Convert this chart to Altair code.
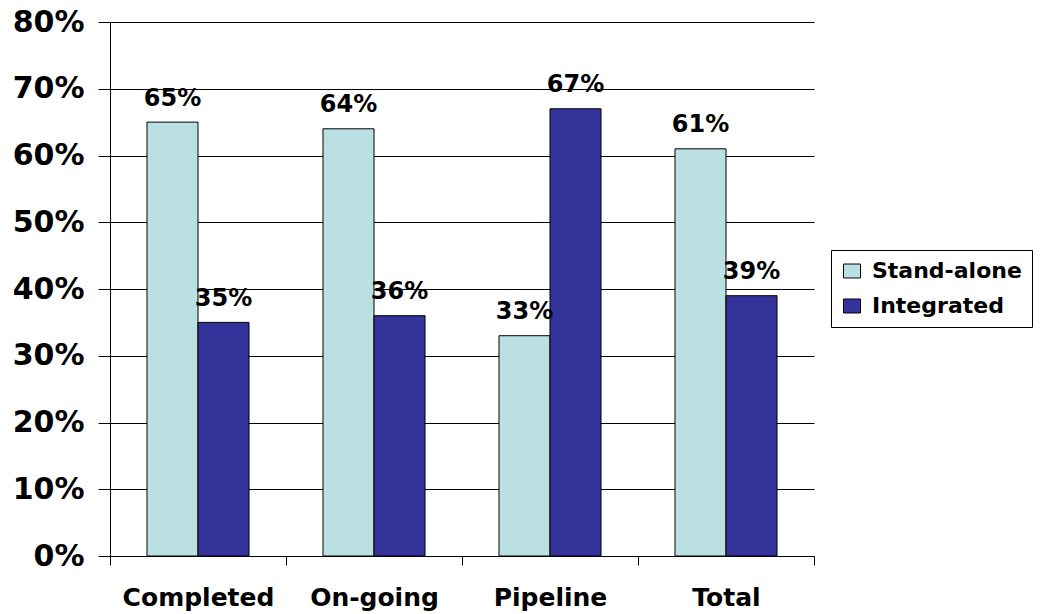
import altair as alt
import pandas as pd

categories = ["Completed", "On-going", "Pipeline", "Total"]
series = ["Stand-alone", "Integrated"]
stand_alone = [0.65, 0.64, 0.33, 0.61]
integrated = [0.35, 0.36, 0.67, 0.39]
colors = ["#BBE0E3", "#333399"]
y_ticks = [0, 0.1, 0.2, 0.3, 0.4, 0.5, 0.6, 0.7, 0.8]

rows = []
for i, c in enumerate(categories):
    rows.append({"cat": c, "series": series[0], "value": stand_alone[i]})
    rows.append({"cat": c, "series": series[1], "value": integrated[i]})
df = pd.DataFrame(rows)

FONT = "DejaVu Sans"

base = alt.Chart(df).encode(
    x=alt.X(
        "cat:N",
        sort=categories,
        scale=alt.Scale(paddingInner=0, paddingOuter=0),
        axis=alt.Axis(
            title=None,
            labelAngle=0,
            tickBand="extent",
            tickSize=9,
            tickColor="black",
            tickWidth=1,
            domainColor="black",
            domainWidth=1,
            grid=False,
            labelFont=FONT,
            labelFontWeight="bold",
            labelFontSize=25,
            labelColor="black",
            labelPadding=20,
        ),
    ),
    xOffset=alt.XOffset(
        "series:N",
        sort=series,
        scale=alt.Scale(domain=series, paddingInner=0, paddingOuter=0.725),
    ),
    y=alt.Y(
        "value:Q",
        scale=alt.Scale(domain=[0, 0.8], nice=False),
        axis=alt.Axis(
            title=None,
            values=y_ticks,
            format=".0%",
            grid=True,
            gridColor="black",
            gridOpacity=1,
            gridWidth=1,
            tickSize=12,
            tickColor="black",
            tickWidth=1,
            domainColor="black",
            domainWidth=1,
            labelFont=FONT,
            labelFontWeight="bold",
            labelFontSize=30,
            labelColor="black",
            labelPadding=14,
        ),
    ),
)

bars = base.mark_bar(stroke="black", strokeWidth=1, opacity=1).encode(
    color=alt.Color(
        "series:N",
        sort=series,
        scale=alt.Scale(domain=series, range=colors),
        legend=alt.Legend(
            title=None,
            orient="none",
            legendX=721,
            legendY=228,
            strokeColor="black",
            fillColor="white",
            padding=10,
            symbolType="M-1,-0.82L1,-0.82L1,0.82L-1,0.82Z",
            symbolSize=289,
            symbolStrokeColor="black",
            symbolStrokeWidth=1,
            symbolOpacity=1,
            labelFont=FONT,
            labelFontWeight="bold",
            labelFontSize=22,
            labelColor="black",
            labelOffset=9,
            labelLimit=400,
            rowPadding=13,
        ),
    )
)

labels = base.mark_text(
    dy=-16.5,
    baseline="alphabetic",
    align="center",
    font=FONT,
    fontWeight="bold",
    fontSize=24,
    color="black",
).encode(text=alt.Text("value:Q", format=".0%"))

chart = (
    alt.layer(bars, labels)
    .properties(
        width=704,
        height=534,
        autosize=alt.AutoSizeParams(type="none"),
        padding={"left": 102, "top": 14, "right": 219, "bottom": 58},
        background="white",
    )
    .configure_view(strokeWidth=0)
)

chart.save("out.html", embed_options={"renderer": "svg", "actions": False})
